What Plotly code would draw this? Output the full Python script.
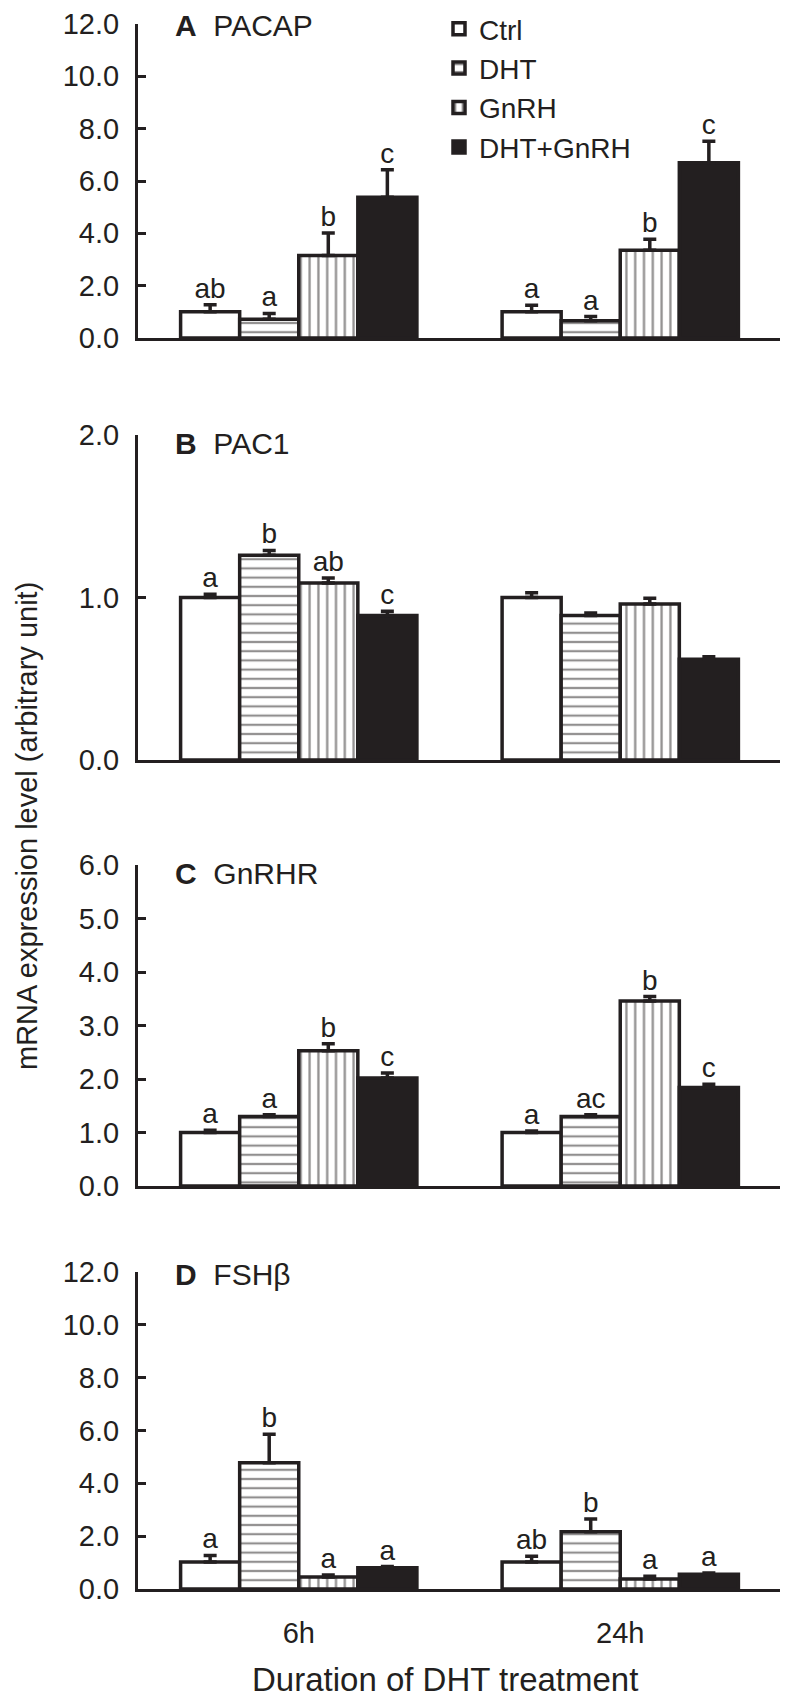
import plotly.graph_objects as go
from plotly.subplots import make_subplots

# groups and treatments
durations = ['6h', '24h']
treatments = ['Ctrl', 'DHT', 'GnRH', 'DHT+GnRH']

# each row: one treatment, values for [6h, 24h]
pacap_mean = [[1.00, 1.00], [0.72, 0.66], [3.15, 3.35], [5.38, 6.70]]
pacap_sem = [[0.27, 0.25], [0.22, 0.16], [0.86, 0.42], [1.05, 0.82]]
pacap_sig = [['ab', 'a'], ['a', 'a'], ['b', 'b'], ['c', 'c']]

pac1_mean = [[1.00, 1.00], [1.26, 0.89], [1.09, 0.96], [0.89, 0.62]]
pac1_sem = [[0.02, 0.03], [0.03, 0.015], [0.03, 0.035], [0.025, 0.015]]
pac1_sig = [['a', ''], ['b', ''], ['ab', ''], ['c', '']]

gnrhr_mean = [[1.00, 1.00], [1.30, 1.30], [2.53, 3.46], [2.02, 1.84]]
gnrhr_sem = [[0.04, 0.03], [0.03, 0.03], [0.13, 0.08], [0.09, 0.06]]
gnrhr_sig = [['a', 'a'], ['a', 'ac'], ['b', 'b'], ['c', 'c']]

fshb_mean = [[1.02, 1.02], [4.78, 2.17], [0.45, 0.38], [0.80, 0.56]]
fshb_sem = [[0.25, 0.22], [1.08, 0.48], [0.08, 0.10], [0.05, 0.05]]
fshb_sig = [['a', 'ab'], ['b', 'b'], ['a', 'a'], ['a', 'a']]

panel_tags = ['A', 'B', 'C', 'D']
genes = ['PACAP', 'PAC1', 'GnRHR', 'FSHβ']
y_max = [12, 2, 6, 12]
y_step = [2, 1, 1, 2]

panels = [
    (pacap_mean, pacap_sem, pacap_sig),
    (pac1_mean, pac1_sem, pac1_sig),
    (gnrhr_mean, gnrhr_sem, gnrhr_sig),
    (fshb_mean, fshb_sem, fshb_sig),
]

INK = '#231f20'
FONT = 'Liberation Sans, Arial, sans-serif'

# the page body has an 8px margin, so the figure is drawn 8px in from the corner
SHIFT = 8
W, H = 788 - SHIFT, 1697 - SHIFT
L, R = 138 - SHIFT, W - (781 - SHIFT)
PW = W - L - R
BAR_W = 0.735 / len(treatments)


def px_x(p):
    # page pixel -> paper x
    return (p - SHIFT - L) / PW


def px_y(p):
    # page pixel -> paper y
    return 1 - (p - SHIFT) / H


# page pixel extents of each panel (top, bottom) and label nudges
panel_px = [(24, 338), (435, 760), (865, 1186), (1272, 1589)]
tag_shift = [-2, -8, -8, -2]

fills = [
    dict(color='white'),
    dict(color='white', pattern=dict(shape='-', fgcolor=INK, bgcolor='white', size=9.2, solidity=0.24)),
    dict(color='white', pattern=dict(shape='|', fgcolor=INK, bgcolor='white', size=8.8, solidity=0.26)),
    dict(color=INK),
]

fig = make_subplots(rows=4, cols=1)

for p, (mean, sem, sig) in enumerate(panels):
    row = p + 1
    for i, name in enumerate(treatments):
        xs = [g + (i - 1.5) * BAR_W for g in range(len(durations))]
        fig.add_trace(go.Bar(
            name=name, x=xs, y=mean[i], width=BAR_W,
            marker=dict(line=dict(color=INK, width=3.5), **fills[i]),
            error_y=dict(type='data', symmetric=False, array=sem[i], arrayminus=[0, 0],
                         color=INK, thickness=3.5, width=6.5),
            legendgroup=name, showlegend=(p == 0),
        ), row=row, col=1)
        fig.add_trace(go.Scatter(
            x=xs, y=[m + e for m, e in zip(mean[i], sem[i])],
            mode='text', text=sig[i], textposition='top center',
            textfont=dict(size=28, color=INK, family=FONT),
            cliponaxis=False, showlegend=False, hoverinfo='skip',
        ), row=row, col=1)

    top, bot = panel_px[p]
    fig.update_yaxes(
        domain=[px_y(bot), px_y(top)], range=[0, y_max[p]], dtick=y_step[p],
        tickformat='.1f', showline=True, linewidth=3, linecolor=INK,
        ticks='inside', ticklen=8, tickwidth=3, tickcolor=INK,
        ticklabelstandoff=10, ticklabeloverflow='allow',
        showgrid=False, zeroline=False, automargin=False,
        tickfont=dict(size=29, color=INK, family=FONT),
        row=row, col=1)
    fig.update_xaxes(
        range=[-0.5, 1.5], tickvals=list(range(len(durations))), ticktext=durations,
        showticklabels=(row == 4), ticks='', showline=True, linewidth=3, linecolor=INK,
        showgrid=False, zeroline=False, ticklabelstandoff=16, ticklabeloverflow='allow',
        automargin=False, tickfont=dict(size=29, color=INK, family=FONT),
        row=row, col=1)
    axis_id = '' if row == 1 else str(row)
    fig.add_annotation(
        xref='x' + axis_id + ' domain', yref='y' + axis_id + ' domain',
        x=px_x(173), y=1.0, xanchor='left', yanchor='middle', showarrow=False,
        yshift=tag_shift[p],
        text='<b>' + panel_tags[p] + '</b>\u00a0\u00a0' + genes[p],
        font=dict(size=30, color=INK, family=FONT))

fig.add_annotation(
    xref='paper', yref='paper', x=px_x(27), y=px_y(826),
    xanchor='center', yanchor='middle', textangle=-90, showarrow=False,
    text='mRNA expression level (arbitrary unit)',
    font=dict(size=29, color=INK, family=FONT))
fig.add_annotation(
    xref='paper', yref='paper', x=px_x(445), y=px_y(1679),
    xanchor='center', yanchor='middle', showarrow=False,
    text='Duration of DHT treatment',
    font=dict(size=33, color=INK, family=FONT))

fig.update_layout(
    width=W, height=H, margin=dict(l=L, r=R, t=0, b=0, autoexpand=False),
    paper_bgcolor='white', plot_bgcolor='white',
    font=dict(family=FONT, color=INK),
    bargap=0.265, bargroupgap=0,
    legend=dict(x=px_x(439), y=1 + 4 / H, xanchor='left', yanchor='top',
                font=dict(size=28, color=INK, family=FONT), tracegroupgap=0,
                bgcolor='rgba(0,0,0,0)'),
)

fig.write_html('out.html')
